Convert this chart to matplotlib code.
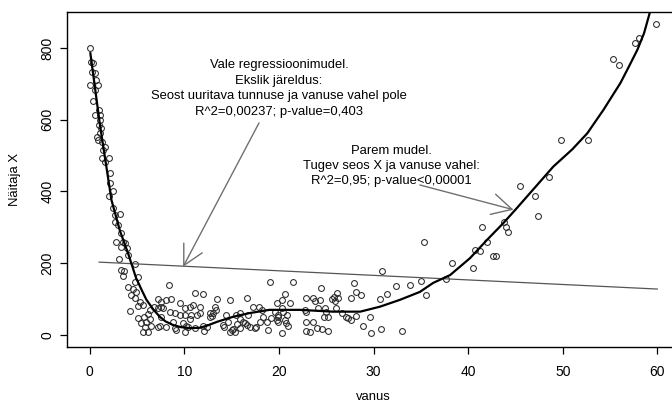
import matplotlib
matplotlib.use("Agg")
import matplotlib.pyplot as plt

plt.rcParams['font.family'] = ['Liberation Sans', 'DejaVu Sans']

# scatter points (vanus, Näitaja X)
age = [0.07, 0.18, 0.35, 0.28, 0.53, 0.63, 0.07, 0.88, 0.53, 0.35, 0.99, 0.53, 1.13, 1.06, 0.99,
       1.23, 1.13, 0.78, 0.88, 1.34, 1.59, 1.41, 1.34, 2.05, 1.59, 2.19, 2.19, 2.47, 2.05,
       2.47, 2.65, 3.17, 2.72, 3.0, 3.28, 2.82, 3.53, 3.70, 3.99, 3.35, 4.05, 3.07, 4.84, 3.35,
       3.63, 3.53, 5.11, 4.76, 4.05, 4.58, 4.94, 4.34, 4.76, 5.29, 5.11, 5.64, 4.23, 6.35, 7.23,
       7.51, 6.80, 5.11, 5.75, 6.17, 5.40, 6.0, 6.35, 5.82, 6.46, 5.64, 6.17, 7.41, 7.58,
       7.58, 8.39, 8.11, 8.64, 7.23, 7.76, 8.47, 8.99, 9.52, 10.05, 9.52, 10.05, 8.82, 8.11,
       7.23, 8.99, 9.87, 10.05, 10.23, 10.4, 10.58, 10.76, 10.58, 10.93, 11.11, 11.93, 11.29,
       11.64, 11.64, 12.06, 11.99, 12.35, 12.7, 13.05, 13.23, 12.7, 13.47, 14.04, 14.18, 14.46,
       14.81, 15.1, 14.81, 15.34, 15.52, 15.87, 16.4, 16.58, 16.76,
       19.05, 17.3, 17.9, 19.75, 13.3, 12.9, 15.5, 16.2, 14.6, 15.0, 15.9, 16.6, 16.9, 17.5,
       17.6, 17.99, 18.34, 18.7, 18.9, 19.2, 19.75, 19.9, 19.6, 18.2, 15.9, 11.1, 9.17,
       21.5, 20.3, 20.6, 21.2, 20.3, 20.4, 20.9, 19.9, 19.9, 20.8, 21.0, 20.3, 22.9, 23.6,
       23.8, 24.5, 24.3, 24.1, 24.9, 25.0, 24.8, 25.2, 22.9, 22.9, 22.9, 23.3, 24.0, 24.6,
       25.2, 25.6, 25.8, 26.1, 26.2, 25.9, 26.0, 26.7, 27.1, 27.6, 28.1, 27.6, 27.9, 28.1,
       28.7, 28.9, 29.6, 29.7, 30.7, 30.9, 30.8, 31.4, 32.4, 33.0, 33.9, 35.0, 35.3, 35.6,
       37.7, 23.6, 20.6, 22.75, 27.3,
       59.9, 57.6, 58.1, 55.3, 55.9, 49.8, 52.7, 48.5, 45.5, 47.1, 47.4, 41.5, 43.8, 44.0,
       44.2, 42.0, 41.3, 40.7, 42.6, 43.0, 40.5, 38.3]
value = [800, 762, 758, 734, 730, 711, 697, 697, 683, 651, 627, 613, 613, 600, 586,
         576, 562, 553, 544, 539, 525, 516, 493, 493, 483, 451, 423, 400, 388,
         353, 335, 337, 316, 307, 284, 260, 260, 256, 242, 246, 223, 211, 198, 181,
         177, 165, 161, 149, 133, 128, 121, 112, 102, 93, 81, 84, 68, 70, 100,
         77, 79, 47, 49, 58, 33, 37, 44, 21, 25, 9, 9, 25, 51,
         93, 139, 98, 100, 74, 74, 65, 60, 90, 74, 56, 56, 37, 23,
         23, 19, 33, 9, 25, 23, 44, 56, 77, 84, 116, 114, 56,
         77, 62, 12, 25, 23, 60, 62, 77, 51, 100, 28, 23, 56,
         98, 16, 9, 9, 31, 44, 33, 102, 56,
         149, 79, 79, 88, 70, 53, 56, 37, 37, 14, 19, 28, 23, 19,
         23, 37, 51, 37, 14, 47, 42, 56, 65, 70, 60, 19, 14,
         149, 98, 114, 88, 74, 65, 56, 51, 37, 33, 26, 5, 102, 102,
         96, 130, 98, 74, 74, 65, 51, 51, 65, 37, 12, 9, 19, 16,
         12, 100, 107, 116, 102, 96, 74, 60, 51, 42, 53, 102, 146, 121,
         112, 25, 51, 5, 100, 179, 16, 114, 137, 12, 139, 151, 258, 112,
         155, 37, 42, 70, 47,
         866, 815, 827, 770, 753, 544, 544, 439, 416, 386, 332, 302, 316, 300,
         288, 260, 235, 237, 220, 220, 188, 200]

# simple linear regression line
reg_x = [1, 60]
reg_y = [203, 128]

# smooth (nonlinear) fit
smooth_x = [0.07, 1.06, 2.3, 3.2, 4.05, 4.9, 5.5, 6.0, 6.7, 7.4, 8.0, 8.8, 9.6, 10.6, 11.6,
            12.3, 13.5, 15.2, 16.9, 19.0, 22.2, 25.7, 28.6, 30.7, 32.8, 34.9, 36.3, 38.1,
            40.2, 42.0, 43.7, 45.0, 45.9, 49.0, 51.0, 52.6, 54.3, 56.1, 57.0, 57.9, 58.6,
            59.6]
smooth_y = [785, 590, 376, 290, 228, 159, 125, 98, 72, 51, 38, 28, 22, 19, 20,
            25, 37, 51, 61, 70, 70, 65, 65, 79, 98, 120, 145, 167,
            214, 265, 311, 349, 376, 469, 517, 562, 627, 702, 748, 795, 841,
            935]

fig = plt.figure(figsize=(6.72, 4.09), dpi=100)
ax = fig.add_axes([67 / 672, 62 / 409, 613 / 672, 335 / 409])

ax.plot(age, value, linestyle='none', marker='o', markersize=4.2,
        markerfacecolor='none', markeredgecolor='#2a2a2a', markeredgewidth=0.75)
ax.plot(reg_x, reg_y, color='#555555', lw=0.9)
ax.plot(smooth_x, smooth_y, color='black', lw=1.6)

arrow = dict(arrowstyle='->,head_length=0.95,head_width=0.5', color='#707070',
             lw=1.0, mutation_scale=15, shrinkA=0, shrinkB=0)
ax.annotate('', xy=(9.87, 190), xytext=(17.9, 591), arrowprops=arrow)
ax.annotate('', xy=(44.8, 349), xytext=(34.9, 418), arrowprops=arrow)

txt1 = ["Vale regressioonimudel.", "Ekslik järeldus:",
        "Seost uuritava tunnuse ja vanuse vahel pole", "R^2=0,00237; p-value=0,403"]
for i, s in enumerate(txt1):
    fig.text(279 / 672, 1 - (65 + 15.6 * i) / 409, s, ha='center', va='center', fontsize=9.4)
txt2 = ["Parem mudel.", "Tugev seos X ja vanuse vahel:", "R^2=0,95; p-value<0,00001"]
for i, s in enumerate(txt2):
    fig.text(391 / 672, 1 - (151 + 15 * i) / 409, s, ha='center', va='center', fontsize=9.4)

ax.set_xlim(-2.4, 62.4)
ax.set_ylim(-33.5, 900)
ax.set_xticks([0, 10, 20, 30, 40, 50, 60])
ax.set_yticks([0, 200, 400, 600, 800])
for lab in ax.get_yticklabels():
    lab.set_rotation(90)
    lab.set_va('center')
ax.tick_params(direction='out', length=5, width=0.9, labelsize=10, colors='black')
ax.tick_params(axis='x', pad=8)
ax.tick_params(axis='y', pad=4)
for sp in ax.spines.values():
    sp.set_linewidth(1.0)

fig.text(373 / 672, 1 - 397 / 409, "vanus", ha='center', va='center', fontsize=9.4)
fig.text(15 / 672, 1 - 180 / 409, "Näitaja X", ha='center', va='center',
         rotation=90, fontsize=9.4)

fig.savefig("out.png", dpi=100)
